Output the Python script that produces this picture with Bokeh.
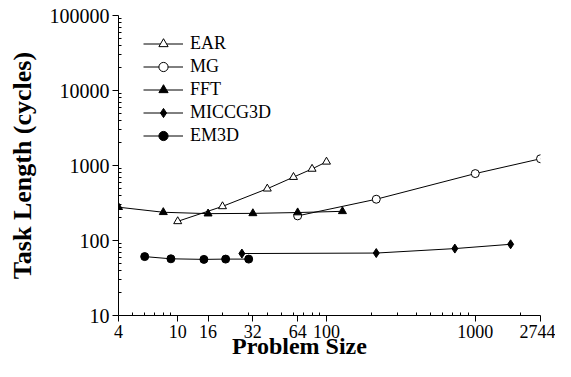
from bokeh.plotting import figure
from bokeh.models import Range1d, FixedTicker, Legend, LegendItem
from bokeh.embed import file_html
from bokeh.resources import INLINE

# ---- data ----
ear_x = [10, 20, 40, 60, 80, 100]
ear_y = [180, 285, 490, 700, 900, 1120]
mg_x = [64, 216, 1000, 2744]
mg_y = [213, 355, 780, 1230]
fft_x = [4, 8, 16, 32, 64, 128]
fft_y = [278, 238, 228, 230, 236, 245]
mic_x = [27, 216, 729, 1728]
mic_y = [67, 68, 78, 89]
em_x = [6, 9, 15, 21, 30]
em_y = [61, 57, 56, 56.5, 56.5]

x_ticks = [4, 10, 16, 32, 64, 100, 1000, 2744]
x_labels = ["4", "10", "16", "32", "64", "100", "1000", "2744"]
y_ticks = [10, 100, 1000, 10000, 100000]
y_labels = ["10", "100", "1000", "10000", "100000"]

FONT = "Liberation Serif, Times New Roman, serif"

p = figure(width=555, height=361, x_axis_type="log", y_axis_type="log",
           output_backend="svg", toolbar_location=None,
           x_range=Range1d(4, 2744), y_range=Range1d(10, 100000),
           min_border_left=118, min_border_right=15, min_border_top=15, min_border_bottom=46)
p.outline_line_color = None
p.xgrid.visible = False
p.ygrid.visible = False
p.background_fill_color = "white"
p.border_fill_color = "white"

def minors(lo, hi, majors):
    out = []
    for e in range(0, 6):
        for m in range(2, 10):
            v = m * 10 ** e
            if lo < v < hi and v not in majors:
                out.append(v)
    return out

p.xaxis.ticker = FixedTicker(ticks=x_ticks, minor_ticks=minors(4, 2744, x_ticks))
p.yaxis.ticker = FixedTicker(ticks=y_ticks, minor_ticks=minors(10, 100000, y_ticks))
p.xaxis.major_label_overrides = {t: l for t, l in zip(x_ticks, x_labels)}
p.yaxis.major_label_overrides = {t: l for t, l in zip(y_ticks, y_labels)}

for ax in (p.xaxis, p.yaxis):
    ax.axis_line_color = "black"
    ax.major_tick_line_color = "black"
    ax.minor_tick_line_color = "black"
    ax.major_tick_in = 0
    ax.major_tick_out = 6
    ax.minor_tick_in = 3
    ax.minor_tick_out = 0
    ax.major_label_text_font = FONT
    ax.major_label_text_color = "black"
    ax.major_label_standoff = 3

p.xaxis.major_label_standoff = 3
p.xaxis.major_label_text_font_size = "18px"
p.yaxis.major_label_text_font_size = "20px"

p.yaxis.axis_label = "Task Length (cycles)"
p.yaxis.axis_label_text_font = FONT
p.yaxis.axis_label_text_font_style = "bold"
p.yaxis.axis_label_text_font_size = "26px"
p.yaxis.axis_label_text_color = "black"
p.yaxis.axis_label_standoff = 10

# x title: trailing no-break spaces shift its centre left, as in the reference
p.xaxis.axis_label = "Problem Size" + "\u00a0" * 10
p.xaxis.axis_label_text_font = FONT
p.xaxis.axis_label_text_font_style = "bold"
p.xaxis.axis_label_text_font_size = "24px"
p.xaxis.axis_label_text_color = "black"
p.xaxis.axis_label_standoff = -8

series = [
    ("EAR", ear_x, ear_y, "triangle", "white", 8),
    ("MG", mg_x, mg_y, "circle", "white", 8),
    ("FFT", fft_x, fft_y, "triangle", "black", 8),
    ("MICCG3D", mic_x, mic_y, "diamond", "black", 9),
    ("EM3D", em_x, em_y, "circle", "black", 8),
]

items = []
for name, xs, ys, mk, fill, sz in series:
    l = p.line(xs, ys, line_color="black", line_width=1)
    s = p.scatter(xs, ys, marker=mk, size=sz, fill_color=fill,
                  line_color="black", line_width=1)
    items.append(LegendItem(label=name, renderers=[l, s]))

legend = Legend(items=items, location=(25, 168))
legend.border_line_color = None
legend.background_fill_alpha = 0
legend.padding = 0
legend.margin = 0
legend.spacing = 0
legend.glyph_width = 40
legend.glyph_height = 23
legend.label_height = 23
legend.label_standoff = 7
legend.label_text_font = FONT
legend.label_text_font_size = "18px"
legend.label_text_color = "black"
legend.label_text_baseline = "middle"
p.add_layout(legend, "center")

open("out.html", "w").write(file_html(p, INLINE))
